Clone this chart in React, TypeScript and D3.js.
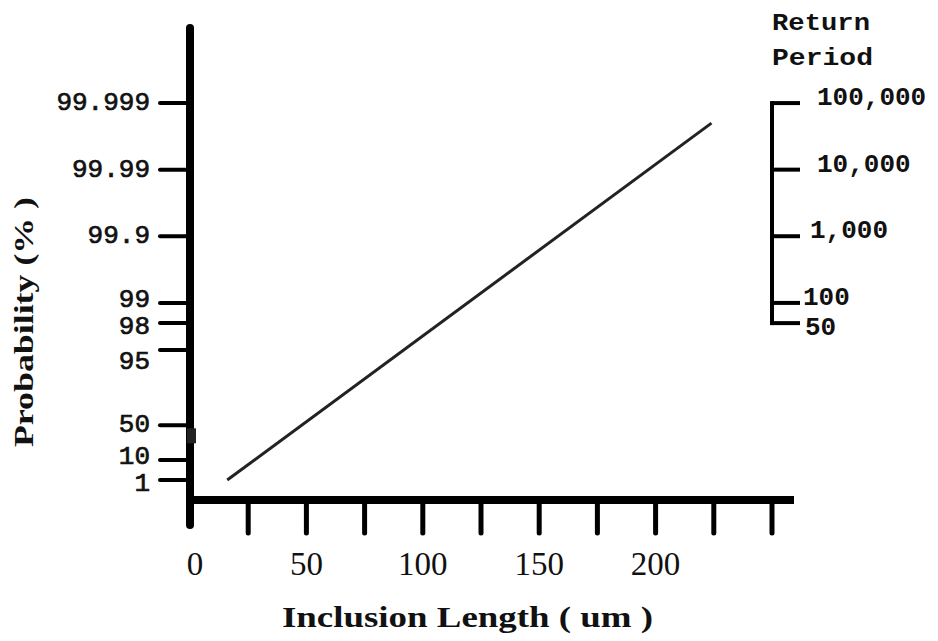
import React from 'react';
import * as d3 from 'd3';

// ---- data ----
const PROB_TICKS = [1, 10, 50, 95, 98, 99, 99.9, 99.99, 99.999];
const PROB_LABELS = ['1', '10', '50', '95', '98', '99', '99.9', '99.99', '99.999'];
const RETURN_PERIODS = [50, 100, 1000, 10000, 100000];
const RETURN_LABELS = ['50', '100', '1,000', '10,000', '100,000'];
const X_TICKS = [0, 25, 50, 75, 100, 125, 150, 175, 200, 225, 250];
const X_LABELS = [0, 50, 100, 150, 200];
const LINE_LENGTH = [16, 224];
const LINE_PROB = [1, 99.998];

// ---- layout ----
const W = 938;
const H = 641;
const AX_X = 190;
const AX_Y = 500;
const MONO = '"Liberation Mono", "DejaVu Sans Mono", monospace';
const SERIF = '"Liberation Serif", "DejaVu Serif", serif';
const LEFT_NUDGE: Record<string, number> = { '95': 12, '98': 4, '99': -3, '1': 4, '10': -3 };
const RIGHT_DX: Record<string, number> = { '100,000': 817, '10,000': 817, '1,000': 810, '100': 803, '50': 805 };

const gumbel = (pPct: number) => -Math.log(-Math.log(pPct / 100));

export default function App() {
  const x = d3.scaleLinear().domain([0, 250]).range([AX_X, 772]);
  const y = d3.scaleLinear().domain([-2.217, 14.11]).range([AX_Y, 28]);
  const yP = (p: number) => y(gumbel(p));
  const yT = (t: number) => yP(100 * (1 - 1 / t));

  const pts = LINE_LENGTH.map((l, i) => [l, LINE_PROB[i]] as [number, number]);
  const linePath = d3
    .line<[number, number]>()
    .x((d) => x(d[0]))
    .y((d) => yP(d[1]))(pts) as string;

  const rTop = yT(d3.max(RETURN_PERIODS) as number);
  const rBot = yT(d3.min(RETURN_PERIODS) as number);

  return (
    <svg
      width={W}
      height={H}
      viewBox={`0 0 ${W} ${H}`}
      style={{ position: 'absolute', left: 0, top: 0, background: '#fff' }}
    >
      <rect x={0} y={0} width={W} height={H} fill="#fff" />

      {/* left axis */}
      <line x1={AX_X} x2={AX_X} y1={28} y2={525} stroke="#000" strokeWidth={8} strokeLinecap="round" />
      {PROB_TICKS.map((p, i) => (
        <g key={p}>
          <line x1={160} x2={AX_X} y1={yP(p)} y2={yP(p)} stroke="#000" strokeWidth={4} strokeLinecap="round" />
          <text
            x={150}
            y={yP(p) + (LEFT_NUDGE[PROB_LABELS[i]] || 0)}
            textAnchor="end"
            dominantBaseline="central"
            fontFamily={MONO}
            fontSize={26}
            stroke="#111"
            strokeWidth={0.7}
            fill="#111"
          >
            {PROB_LABELS[i]}
          </text>
        </g>
      ))}
      <rect x={AX_X - 3} y={yP(50) + 3} width={9} height={15} fill="#222" />

      {/* x axis */}
      <line x1={AX_X} x2={794} y1={AX_Y} y2={AX_Y} stroke="#000" strokeWidth={8} />
      {X_TICKS.filter((v) => v > 0).map((v) => (
        <line key={v} x1={x(v)} x2={x(v)} y1={AX_Y} y2={533} stroke="#000" strokeWidth={5} strokeLinecap="round" />
      ))}
      {X_LABELS.map((v) => (
        <text key={v} x={x(v) + (v === 0 ? 5 : 0)} y={575} textAnchor="middle" fontFamily={SERIF} fontSize={33} fill="#111">
          {v}
        </text>
      ))}
      <text x={282} y={627} fontFamily={SERIF} fontWeight="bold" fontSize={30} textLength={371} lengthAdjust="spacingAndGlyphs" fill="#111">
        Inclusion Length  ( um )
      </text>

      {/* y title */}
      <text
        transform="translate(33,447) rotate(-90)"
        fontFamily={SERIF}
        fontWeight="bold"
        fontSize={27}
        textLength={250}
        lengthAdjust="spacingAndGlyphs"
        fill="#111"
      >
        Probability (% )
      </text>

      {/* data line */}
      <path d={linePath} fill="none" stroke="#222" strokeWidth={3} />

      {/* right axis: return period */}
      <line x1={772} x2={772} y1={rTop} y2={rBot} stroke="#000" strokeWidth={4} strokeLinecap="square" />
      {RETURN_PERIODS.map((t, i) => (
        <g key={t}>
          <line x1={772} x2={800} y1={yT(t)} y2={yT(t)} stroke="#000" strokeWidth={4} />
          <text
            x={RIGHT_DX[RETURN_LABELS[i]]}
            y={yT(t) + (t === 50 ? 5 : -5)}
            dominantBaseline="central"
            fontFamily={MONO}
            fontWeight="bold"
            fontSize={26}
            fill="#111"
          >
            {RETURN_LABELS[i]}
          </text>
        </g>
      ))}
      <text x={772} y={30} fontFamily={MONO} fontWeight="bold" fontSize={24} textLength={98} lengthAdjust="spacingAndGlyphs" fill="#111">
        Return
      </text>
      <text x={772} y={65} fontFamily={MONO} fontWeight="bold" fontSize={24} textLength={101} lengthAdjust="spacingAndGlyphs" fill="#111">
        Period
      </text>
    </svg>
  );
}
